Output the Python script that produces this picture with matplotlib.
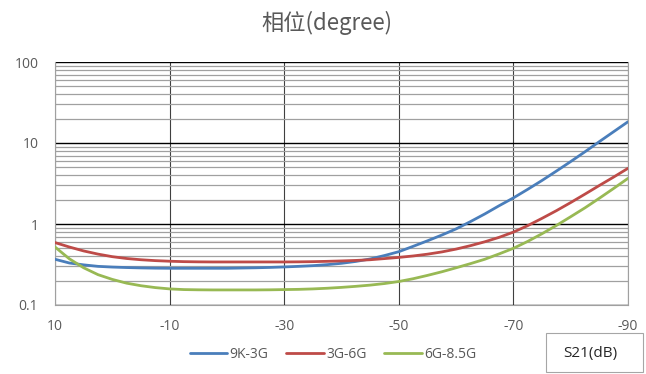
import matplotlib
matplotlib.use("Agg")
import matplotlib.pyplot as plt
from matplotlib.patches import Rectangle
from matplotlib.ticker import FixedLocator, LogLocator, NullFormatter

s21 = [10, 7.5, 5, 2.5, 0, -2.5, -5, -7.5, -10, -12.5, -15, -17.5, -20, -22.5, -25, -27.5,
       -30, -32.5, -35, -37.5, -40, -42.5, -45, -47.5, -50, -52.5, -55, -57.5, -60, -62.5,
       -65, -67.5, -70, -72.5, -75, -77.5, -80, -82.5, -85, -87.5, -90]
phase_9k_3g = [0.367, 0.33, 0.313, 0.30, 0.294, 0.29, 0.287, 0.285, 0.284, 0.284, 0.284, 0.284,
               0.284, 0.286, 0.288, 0.291, 0.295, 0.30, 0.306, 0.315, 0.327, 0.345, 0.37, 0.408,
               0.455, 0.53, 0.62, 0.73, 0.87, 1.07, 1.33, 1.68, 2.1, 2.68, 3.45, 4.5, 5.9, 7.8,
               10.4, 13.8, 18.3]
phase_3g_6g = [0.59, 0.52, 0.465, 0.425, 0.395, 0.375, 0.362, 0.353, 0.347, 0.343, 0.341, 0.34,
               0.34, 0.34, 0.34, 0.34, 0.34, 0.341, 0.343, 0.346, 0.35, 0.355, 0.362, 0.374,
               0.387, 0.403, 0.424, 0.452, 0.49, 0.54, 0.603, 0.684, 0.794, 0.955, 1.175, 1.46,
               1.84, 2.34, 2.99, 3.8, 4.87]
phase_6g_85g = [0.52, 0.372, 0.288, 0.237, 0.207, 0.186, 0.173, 0.164, 0.158, 0.155, 0.154,
                0.1535, 0.1535, 0.1535, 0.1535, 0.154, 0.155, 0.156, 0.158, 0.161, 0.165, 0.17,
                0.176, 0.184, 0.195, 0.211, 0.232, 0.257, 0.288, 0.324, 0.367, 0.427, 0.501,
                0.61, 0.759, 0.959, 1.23, 1.585, 2.08, 2.75, 3.66]
series_names = ["9K-3G", "3G-6G", "6G-8.5G"]
x_ticks = [10, -10, -30, -50, -70, -90]
y_ticks = [0.1, 1, 10, 100]
y_tick_labels = ["0.1", "1", "10", "100"]

colors = ["#4A7EBB", "#BE4B48", "#98B954"]
gray = "#595959"

fig = plt.figure(figsize=(6.46, 3.74), dpi=100)
W, H = 646, 374
ax = fig.add_axes([55 / W, 1 - 305 / H, (628 - 55) / W, (305 - 62) / H])

for ys, c, n in zip([phase_9k_3g, phase_3g_6g, phase_6g_85g], colors, series_names):
    ax.plot(s21, ys, color=c, lw=2.0, label=n, solid_capstyle="round",
            solid_joinstyle="round", zorder=3)

ax.set_yscale("log")
ax.set_ylim(0.1, 100)
ax.set_xlim(10, -90)
ax.xaxis.set_major_locator(FixedLocator(x_ticks))
ax.set_xticklabels([str(v) for v in x_ticks])
ax.yaxis.set_major_locator(FixedLocator(y_ticks))
ax.set_yticklabels(y_tick_labels)
ax.yaxis.set_minor_locator(LogLocator(base=10, subs=range(2, 10)))
ax.yaxis.set_minor_formatter(NullFormatter())

ax.grid(True, which="major", axis="y", color="#000000", lw=1.0, zorder=1)
ax.grid(True, which="minor", axis="y", color="#a0a0a0", lw=0.9, zorder=1)
ax.grid(True, which="major", axis="x", color="#404040", lw=0.8, zorder=1)

ax.spines["top"].set_visible(False)
for s in ["left", "bottom", "right"]:
    ax.spines[s].set_color("#a0a0a0")
ax.tick_params(which="both", length=0, colors=gray, labelsize=10)
ax.tick_params(axis="y", pad=12)
ax.tick_params(axis="x", pad=10)
for lab in ax.get_xticklabels() + ax.get_yticklabels():
    lab.set_fontfamily("Open Sans")

fig.text(327 / W, 1 - 23 / H, "相位(degree)", ha="center", va="center",
         fontsize=16, color=gray, family=["Noto Sans CJK SC", "DejaVu Sans"])

leg = fig.legend(loc="center", bbox_to_anchor=(333 / W, 1 - 354 / H), ncol=3, frameon=False,
                 handlelength=2.7, columnspacing=1.3, handletextpad=0.15,
                 prop={"family": "Open Sans", "size": 10})
for t in leg.get_texts():
    t.set_color(gray)

fig.patches.append(Rectangle((546 / W, 1 - 372 / H), 97 / W, 39 / H, transform=fig.transFigure,
                             fc="white", ec="#a6a6a6", lw=0.8))
fig.text(590 / W, 1 - 354 / H, "S21(dB)", ha="center", va="center", fontsize=11,
         color="#262626", family="Open Sans")

fig.savefig("out.png", dpi=100)
